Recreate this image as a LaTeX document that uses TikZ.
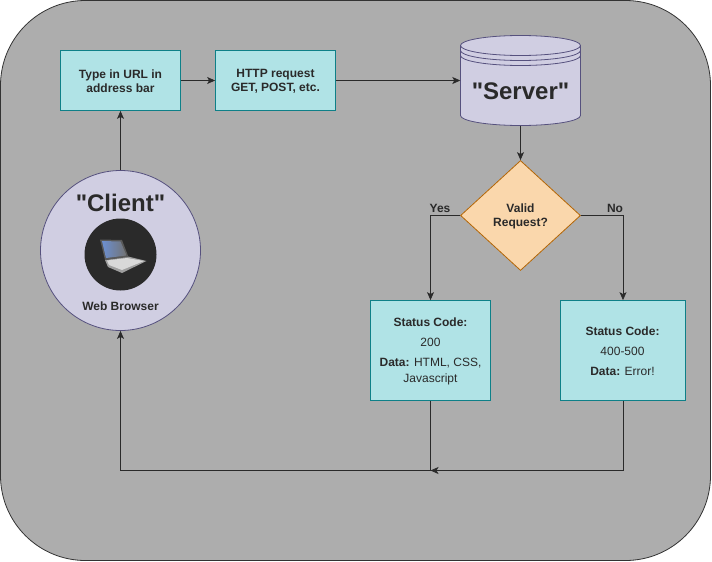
\documentclass[tikz,border=0pt]{standalone}
\usepackage{fontspec}
\setmainfont{Liberation Sans}[Ligatures=TeXOff]
\usetikzlibrary{arrows.meta}
\usetikzlibrary{shapes.geometric}
\usetikzlibrary{positioning}
\definecolor{panelgrey}{HTML}{ADADAD}
\definecolor{panelline}{HTML}{333333}
\definecolor{lilacfill}{HTML}{D0CEE2}
\definecolor{lilacline}{HTML}{56517E}
\definecolor{tealfill}{HTML}{B0E3E6}
\definecolor{tealline}{HTML}{0E8088}
\definecolor{orangefill}{HTML}{FAD7AC}
\definecolor{orangeline}{HTML}{B46504}
\definecolor{inkdark}{HTML}{2A2A2A}
\definecolor{screenblue}{HTML}{6C8FD0}
\tikzset{
  stepbox/.style={draw=tealline, line width=0.8pt, fill=tealfill, rectangle, inner sep=0pt},
  boxtext/.style={text=inkdark, align=center, inner sep=0pt, font=\fontsize{12}{14}\selectfont},
  line/.style={draw=inkdark, line width=0.8pt, -{Stealth[length=8pt,width=7pt,inset=2pt]}},
  plainline/.style={draw=inkdark, line width=0.8pt},
  answer/.style={text=inkdark, font=\fontsize{12}{14}\selectfont\bfseries, inner sep=0pt},
  bigname/.style={text=inkdark, font=\fontsize{24}{28}\selectfont\bfseries, inner sep=0pt},
}
\begin{document}
\begin{tikzpicture}[x=1pt, y=-1pt]
    \useasboundingbox (0,0) rectangle (712,562);
    \draw[panelline, line width=0.8pt, fill=panelgrey, rounded corners=85pt] (0.5,0.5) rectangle (710.5,560.5);
    %% Client
    \node[circle, draw=lilacline, line width=0.8pt, fill=lilacfill, minimum size=160pt, inner sep=0pt] (client) at (120.5,250.5) {};
    \node[bigname] (clienttext) at (120.5,203) {"Client"};
    \node[circle, fill=inkdark, minimum size=72pt, inner sep=0pt] (browser) at (120.5,254.5) {};
    \node[answer] (browsertext) at (120.5,306) {Web Browser};
    %% Laptop
    \fill[gray!75] (105,260) -- (128,256.5) -- (146.5,261) -- (122,273) -- (108,267) -- cycle;
    \fill[gray!30] (107,260.5) -- (127,258) -- (144,261) -- (122,270) -- (109,265) -- cycle;
    \fill[black!65] (100,239.5) -- (122,240) -- (128.5,257) -- (105,260) -- cycle;
    \shade[left color=screenblue, right color=black!55] (102,241) -- (120.5,241.5) -- (126.5,255.5) -- (106,258) -- cycle;
    %% Boxes
    \node[stepbox, minimum width=120pt, minimum height=60pt] (url) at (120.5,80.5) {};
    \node[boxtext] (urltext) at (120.5,81.5) {\textbf{Type in URL in}\\\textbf{address bar}};
    \node[stepbox, minimum width=120pt, minimum height=60pt] (request) at (275.5,80.5) {};
    \node[boxtext] (requesttext) at (275.5,81.5) {\textbf{HTTP request}\\\textbf{GET, POST, etc.}};
    %% Server
    \node[minimum width=120pt, minimum height=90pt, inner sep=0pt] (server) at (520.5,80.5) {};
    \draw[lilacline, line width=0.8pt, fill=lilacfill] (460.5,45.5) -- (460.5,115.5)
      .. controls (460.5,121) and (487.4,125.5) .. (520.5,125.5)
      .. controls (553.6,125.5) and (580.5,121) .. (580.5,115.5) -- (580.5,45.5)
      .. controls (580.5,40) and (553.6,35.5) .. (520.5,35.5)
      .. controls (487.4,35.5) and (460.5,40) .. (460.5,45.5) -- cycle;
    \foreach \ringy in {45.5,50.5,55.5} {
      \draw[lilacline, line width=0.8pt] (460.5,\ringy)
        .. controls (460.5,\ringy+5.5) and (487.4,\ringy+10) .. (520.5,\ringy+10)
        .. controls (553.6,\ringy+10) and (580.5,\ringy+5.5) .. (580.5,\ringy);
    }
    \node[bigname] (servertext) at (520.5,91) {"Server"};
    %% Decision
    \node[diamond, draw=orangeline, line width=0.8pt, fill=orangefill, aspect=1.09, minimum width=120pt, minimum height=110pt, inner sep=0pt] (valid) at (520.5,215.5) {};
    \node[boxtext] (validtext) at (520.5,216) {\textbf{Valid}\\\textbf{Request?}};
    \node[stepbox, minimum width=120pt, minimum height=100pt] (ok) at (430.5,350.5) {};
    \node[boxtext] (oktext) at (430.5,351.5) {\textbf{Status Code:}\\[6pt]200\\[6pt]\textbf{Data:} HTML, CSS,\\[2pt]Javascript};
    \node[stepbox, minimum width=125pt, minimum height=100pt] (fail) at (623,350.5) {};
    \node[boxtext] (failtext) at (622.5,351.5) {\textbf{Status Code:}\\[6pt]400-500\\[6pt]\textbf{Data:} Error!};
    \node[answer] (yes) at (440,208) {Yes};
    \node[answer] (no) at (615,208) {No};
    \coordinate (merge) at (430.5,470.5);
    %% Flows
    \path[line] (client.north) -- (url.south);
    \path[line] (url.east) -- (request.west);
    \path[line] (request.east) -- (server.west);
    \path[line] (server.south) -- (valid.north);
    \path[line] (valid.west) -| (ok.north);
    \path[line] (valid.east) -| (fail.north);
    \path[plainline] (ok.south) -- (merge);
    \path[line] (merge) -| (client.south);
    \path[line] (fail.south) |- (merge);
\end{tikzpicture}
\end{document}
